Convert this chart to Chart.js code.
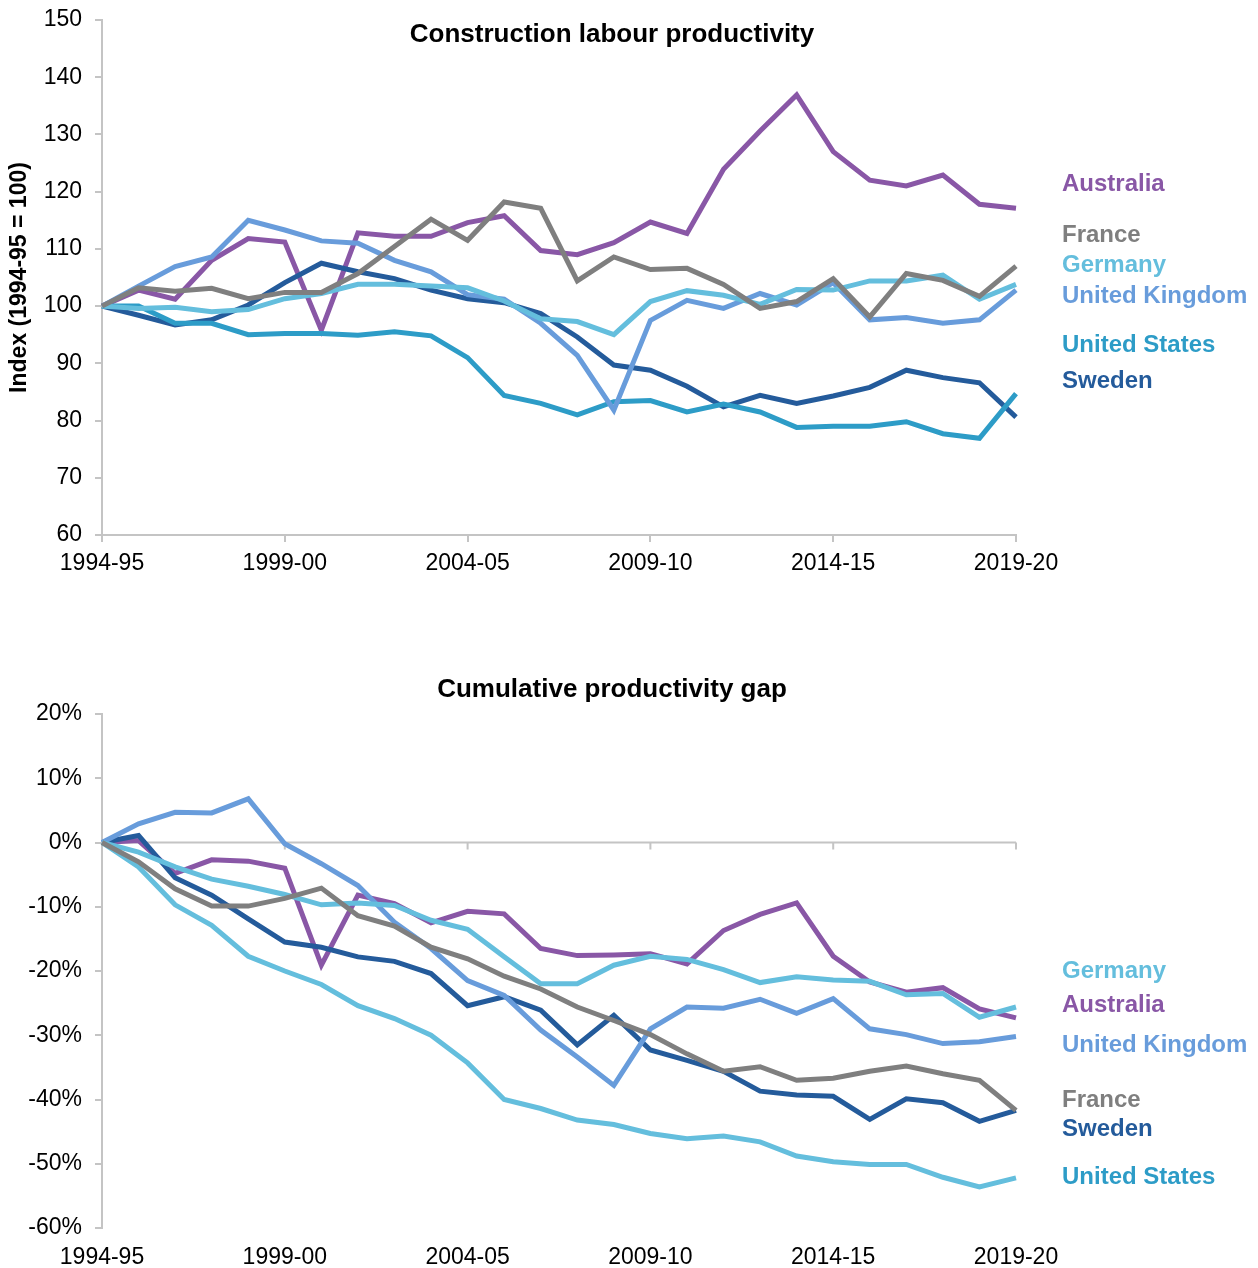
<!DOCTYPE html>
<html>
<head>
<meta charset="utf-8">
<script src="https://cdn.jsdelivr.net/npm/chart.js@4.4.1/dist/chart.umd.min.js"></script>
<style>
  body { margin: 0; background: #fff; }
  canvas { display: block; }
</style>
</head>
<body>
<canvas id="topChart" width="1258" height="610"></canvas>
<canvas id="gapChart" width="1258" height="658"></canvas>
<script>
const years = ["1994-95","1995-96","1996-97","1997-98","1998-99","1999-00","2000-01","2001-02","2002-03","2003-04",
  "2004-05","2005-06","2006-07","2007-08","2008-09","2009-10","2010-11","2011-12","2012-13","2013-14",
  "2014-15","2015-16","2016-17","2017-18","2018-19","2019-20"]

// Construction labour productivity, index 1994-95 = 100
const australia = [100, 102.8, 101.2, 108.0, 111.8, 111.2, 95.8, 112.8, 112.2, 112.2, 114.6, 115.8, 109.7, 109.0, 111.1, 114.7, 112.7, 123.9, 130.6, 136.9, 127.0, 122.0, 121.0, 122.9, 117.8, 117.1]
const france = [100, 103.2, 102.6, 103.1, 101.3, 102.4, 102.4, 105.7, 110.4, 115.2, 111.5, 118.2, 117.1, 104.4, 108.6, 106.4, 106.6, 103.8, 99.6, 100.8, 104.8, 98.1, 105.7, 104.5, 101.7, 107.0]
const germany = [100, 99.6, 99.8, 99.0, 99.4, 101.3, 102.2, 103.8, 103.8, 103.5, 103.2, 100.9, 97.8, 97.3, 95.0, 100.8, 102.7, 101.9, 100.3, 102.9, 102.8, 104.4, 104.4, 105.4, 101.2, 103.8]
const unitedKingdom = [100, 103.5, 106.9, 108.6, 115.0, 113.3, 111.4, 111.0, 108.0, 106.0, 102.0, 101.2, 97.0, 91.4, 81.8, 97.5, 101.0, 99.6, 102.2, 100.2, 104.1, 97.6, 98.0, 97.0, 97.6, 102.8]
const unitedStates = [100, 100.0, 97.0, 97.0, 95.0, 95.2, 95.2, 94.9, 95.5, 94.8, 91.0, 84.4, 83.0, 81.0, 83.3, 83.5, 81.5, 82.9, 81.5, 78.8, 79.0, 79.0, 79.8, 77.7, 76.9, 84.7]
const sweden = [100, 98.4, 96.7, 97.6, 100.2, 104.1, 107.5, 106.0, 104.8, 102.8, 101.3, 100.6, 98.7, 94.6, 89.7, 88.8, 86.0, 82.4, 84.4, 83.0, 84.3, 85.8, 88.8, 87.5, 86.6, 80.6]

// Cumulative productivity gap, %
const australiaGap = [0, 0.3, -4.8, -2.7, -2.9, -4.0, -19.1, -8.2, -9.5, -12.5, -10.7, -11.1, -16.5, -17.6, -17.5, -17.3, -18.9, -13.7, -11.2, -9.4, -17.7, -21.7, -23.3, -22.6, -25.9, -27.3]
const franceGap = [0, -3.0, -7.2, -9.9, -9.9, -8.7, -7.1, -11.4, -13.0, -16.3, -18.1, -20.8, -22.8, -25.6, -27.7, -29.9, -32.9, -35.6, -34.9, -37.0, -36.7, -35.6, -34.8, -36.0, -37.0, -41.7]
const germanyGap = [0, -1.5, -3.8, -5.7, -6.8, -8.1, -9.7, -9.4, -9.8, -12.1, -13.5, -17.8, -22.0, -22.0, -19.1, -17.7, -18.2, -19.8, -21.8, -20.9, -21.4, -21.6, -23.7, -23.5, -27.2, -25.6]
const unitedKingdomGap = [0, 2.9, 4.7, 4.6, 6.8, -0.2, -3.3, -6.7, -12.4, -16.5, -21.5, -23.8, -29.2, -33.4, -37.8, -29.0, -25.6, -25.8, -24.4, -26.6, -24.3, -29.0, -29.9, -31.3, -31.0, -30.2]
const unitedStatesGap = [0, -3.8, -9.7, -12.9, -17.7, -20.0, -22.1, -25.4, -27.4, -30.0, -34.3, -40.0, -41.4, -43.2, -43.9, -45.3, -46.1, -45.7, -46.6, -48.8, -49.7, -50.1, -50.1, -52.1, -53.6, -52.2]
const swedenGap = [0, 1.1, -5.5, -8.2, -11.9, -15.5, -16.3, -17.8, -18.5, -20.4, -25.4, -24.0, -26.1, -31.5, -26.9, -32.3, -33.9, -35.6, -38.7, -39.3, -39.5, -43.1, -39.9, -40.5, -43.4, -41.7]

// where the country names sit on the right, in axis units
const topLabelAt = { Australia: 121.3, France: 112.4, Germany: 107.2, "United Kingdom": 101.7, "United States": 93.2, Sweden: 86.9 }
const gapLabelAt = { Germany: -20.0, Australia: -25.3, "United Kingdom": -31.6, France: -40.1, Sweden: -44.7, "United States": -52.1 }

const colors = {
  Australia: "#8957a6",
  France: "#7f7f7f",
  Germany: "#64bedd",
  "United Kingdom": "#689cdb",
  "United States": "#2d9cc7",
  Sweden: "#245b9b"
}

const FONT = '"Liberation Sans", Arial, sans-serif'
const AXIS_GREY = "#c4c4c4"

function line(label, data, color) {
  return {
    label: label,
    data: data,
    borderColor: color || colors[label],
    backgroundColor: color || colors[label],
    borderWidth: 5,
    pointRadius: 0,
    tension: 0,
    fill: false
  }
}

// draws the panel title and the coloured country names
const panelText = {
  id: "panelText",
  afterDraw(chart, args, opts) {
    const { ctx, chartArea, scales } = chart
    ctx.save()
    ctx.fillStyle = "#000"
    ctx.font = "bold 26px " + FONT
    ctx.textAlign = "center"
    ctx.textBaseline = "middle"
    ctx.fillText(opts.title, 612, chartArea.top + opts.titleOffset)

    ctx.font = "bold 24px " + FONT
    ctx.textAlign = "left"
    Object.entries(opts.labels).forEach(([name, v]) => {
      ctx.fillStyle = colors[name]
      ctx.fillText(name, chartArea.right + 46, scales.y.getPixelForValue(v))
    })
    ctx.restore()
  }
}

// horizontal axis line at zero with its tick marks (gap chart)
const zeroLine = {
  id: "zeroLine",
  beforeDatasetsDraw(chart) {
    const { ctx, chartArea, scales } = chart
    const y0 = scales.y.getPixelForValue(0)
    ctx.save()
    ctx.strokeStyle = AXIS_GREY
    ctx.lineWidth = 2
    ctx.beginPath()
    ctx.moveTo(chartArea.left, y0)
    ctx.lineTo(chartArea.right, y0)
    years.forEach((y, i) => {
      if (i % 5 === 0 && i > 0) {
        const x = scales.x.getPixelForValue(i)
        ctx.moveTo(x, y0)
        ctx.lineTo(x, y0 + 7)
      }
    })
    ctx.stroke()
    ctx.restore()
  }
}

function yAxis(min, max, fmt, title) {
  return {
    min: min,
    max: max,
    afterFit: (scale) => {
      scale.width = 102
      scale.paddingTop = 0
      scale.paddingBottom = 0
    },
    ticks: { stepSize: 10, color: "#000", font: { family: FONT, size: 23 }, padding: 13, callback: fmt },
    grid: { drawOnChartArea: false, drawTicks: true, tickLength: 7, color: AXIS_GREY, lineWidth: 2 },
    border: { display: true, color: AXIS_GREY, width: 2 },
    title: title ? { display: true, text: title, color: "#000", font: { family: FONT, size: 23, weight: "bold" }, padding: { top: 6, bottom: 0 } } : { display: false }
  }
}

const yearTick = function (value, index) {
  return index % 5 === 0 ? years[index] : null
}

new Chart(document.getElementById("topChart"), {
  type: "line",
  data: {
    labels: years,
    datasets: [
      line("France", france),
      line("Germany", germany),
      line("United Kingdom", unitedKingdom),
      line("United States", unitedStates),
      line("Sweden", sweden),
      line("Australia", australia)
    ]
  },
  options: {
    responsive: false,
    animation: false,
    layout: { padding: { left: 0, right: 242, top: 20, bottom: 0 } },
    plugins: {
      legend: { display: false },
      tooltip: { enabled: false },
      panelText: { title: "Construction labour productivity", titleOffset: 15, labels: topLabelAt }
    },
    scales: {
      x: {
        afterFit: (scale) => { scale.height = 75 },
        ticks: { autoSkip: false, maxRotation: 0, color: "#000", font: { family: FONT, size: 23 }, padding: 8, callback: yearTick },
        grid: { drawOnChartArea: false, drawTicks: true, tickLength: 7, color: AXIS_GREY, lineWidth: 2 },
        border: { display: true, color: AXIS_GREY, width: 2 }
      },
      y: yAxis(60, 150, (v) => v, "Index (1994-95 = 100)")
    }
  },
  plugins: [panelText]
})

new Chart(document.getElementById("gapChart"), {
  type: "line",
  data: {
    labels: years,
    datasets: [
      line("France", franceGap),
      line("Germany", germanyGap),
      line("United Kingdom", unitedKingdomGap),
      line("United States", unitedStatesGap, colors.Germany),
      line("Sweden", swedenGap),
      line("Australia", australiaGap)
    ]
  },
  options: {
    responsive: false,
    animation: false,
    layout: { padding: { left: 0, right: 242, top: 104, bottom: 0 } },
    plugins: {
      legend: { display: false },
      tooltip: { enabled: false },
      panelText: { title: "Cumulative productivity gap", titleOffset: -24, labels: gapLabelAt }
    },
    scales: {
      x: {
        afterFit: (scale) => { scale.height = 40 },
        ticks: { autoSkip: false, maxRotation: 0, color: "#000", font: { family: FONT, size: 23 }, padding: 16, callback: yearTick },
        grid: { drawOnChartArea: false, drawTicks: false },
        border: { display: false }
      },
      y: yAxis(-60, 20, (v) => v + "%")
    }
  },
  plugins: [panelText, zeroLine]
})
</script>
</body>
</html>
